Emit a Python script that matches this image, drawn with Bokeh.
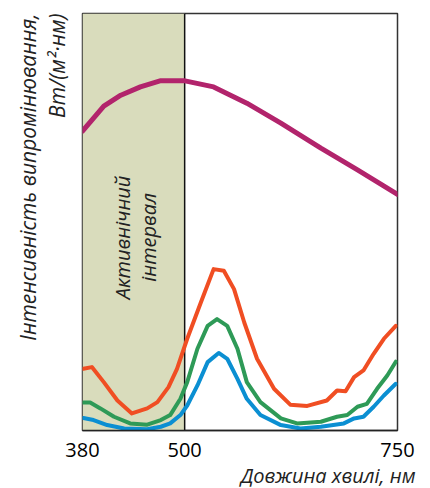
import math
from bokeh.plotting import figure
from bokeh.models import Range1d, FixedTicker, BoxAnnotation, Label, Title, Span
from bokeh.embed import file_html
from bokeh.resources import INLINE

# ---- data (arbitrary intensity units 0..100) ----
purple_x = [380, 393, 405, 425, 448, 472, 499, 534, 573, 613, 660, 703, 750]
purple_y = [71.8, 74.9, 77.8, 80.4, 82.4, 83.9, 83.9, 82.4, 78.5, 73.7, 67.7, 62.5, 56.6]

red_x = [381, 391, 405, 421, 438, 456, 468, 481, 491, 503, 519, 534, 546, 558, 570, 585, 605,
         624, 644, 667, 679, 689, 699, 710, 722, 734, 748]
red_y = [14.8, 15.2, 11.6, 7.2, 4.1, 5.3, 6.8, 10.4, 14.8, 22.0, 30.7, 38.7, 38.3, 33.9, 25.9,
         17.2, 10.0, 6.2, 5.9, 7.2, 9.6, 9.4, 12.8, 14.4, 18.4, 22.0, 25.1]

green_x = [381, 389, 401, 417, 436, 456, 472, 483, 495, 503, 515, 527, 538, 550, 562, 573, 589,
           613, 632, 660, 679, 691, 703, 714, 726, 738, 748]
green_y = [6.7, 6.7, 5.3, 3.3, 1.7, 1.4, 2.5, 3.7, 7.6, 11.6, 19.6, 25.1, 26.7, 25.1, 19.6, 11.6,
           6.8, 2.9, 1.7, 2.1, 3.3, 3.7, 5.7, 6.4, 10.0, 13.2, 16.5]

blue_x = [381, 393, 409, 429, 456, 472, 483, 495, 503, 515, 527, 540, 550, 562, 573, 589, 613,
          636, 660, 687, 699, 710, 722, 734, 748]
blue_y = [3.0, 2.5, 1.3, 0.5, 0.3, 0.9, 1.7, 3.7, 6.0, 10.8, 16.4, 18.6, 17.2, 12.4, 7.6, 3.7,
          1.3, 0.5, 0.9, 1.7, 2.9, 3.3, 5.7, 8.4, 11.2]

x_ticks = [380, 500, 750]
active_interval = [380, 500]

FONT = "Open Sans"

p = figure(width=422, height=488, output_backend="svg", toolbar_location=None,
           x_range=Range1d(380, 750), y_range=Range1d(0, 100), y_axis_location=None,
           min_border_left=82, min_border_right=25, min_border_top=13, min_border_bottom=56)
p.background_fill_color = "white"
p.border_fill_color = "white"
p.xgrid.visible = False
p.ygrid.visible = False
p.outline_line_color = "#333333"
p.outline_line_width = 1.5

ax = p.xaxis[0]
ax.ticker = FixedTicker(ticks=x_ticks)
ax.major_tick_line_color = None
ax.minor_tick_line_color = None
ax.axis_line_color = "#222222"
ax.axis_line_width = 1.5
ax.major_label_text_font = FONT
ax.major_label_text_font_size = "20px"
ax.major_label_text_color = "#000000"
ax.major_label_standoff = 6

p.add_layout(BoxAnnotation(left=active_interval[0], right=active_interval[1],
                           fill_color="#d9dcbc", fill_alpha=1.0,
                           line_color=None, level="underlay"))
p.add_layout(Span(location=active_interval[1], dimension="height",
                  line_color="#111111", line_width=1.5, level="underlay"))

p.line(purple_x, purple_y, line_color="#b2246c", line_width=5, line_join="round", line_cap="round")
p.line(red_x, red_y, line_color="#f04e23", line_width=4, line_join="round", line_cap="round")
p.line(green_x, green_y, line_color="#2e9a57", line_width=4, line_join="round", line_cap="round")
p.line(blue_x, blue_y, line_color="#0b8fd2", line_width=4, line_join="round", line_cap="round")

common = dict(text_font=FONT, text_font_style="italic", text_color="#222222")

# y-axis label (two lines), outermost added last
p.add_layout(Title(text="Вт/(м²·нм)", align="right", standoff=24, offset=0,
                   text_font_size="21px", text_font_style="italic", text_font=FONT,
                   text_color="#222222"), "left")
p.add_layout(Title(text="Інтенсивність випромінювання,", align="right", standoff=-26, offset=0,
                   text_font_size="21px", text_font_style="italic", text_font=FONT,
                   text_color="#222222"), "left")

p.add_layout(Label(x=426.6, y=46.3, text="Активнічний", angle=math.pi / 2,
                   text_align="center", text_baseline="middle", text_font_size="20px", **common))
p.add_layout(Label(x=457.5, y=46.3, text="інтервал", angle=math.pi / 2,
                   text_align="center", text_baseline="middle", text_font_size="20px", **common))

p.add_layout(Title(text="Довжина хвилі, нм", align="right", standoff=0, offset=-18,
                   text_font_size="20px", text_font_style="italic", text_font=FONT,
                   text_color="#222222"), "below")

open("out.html", "w").write(file_html(p, INLINE))
